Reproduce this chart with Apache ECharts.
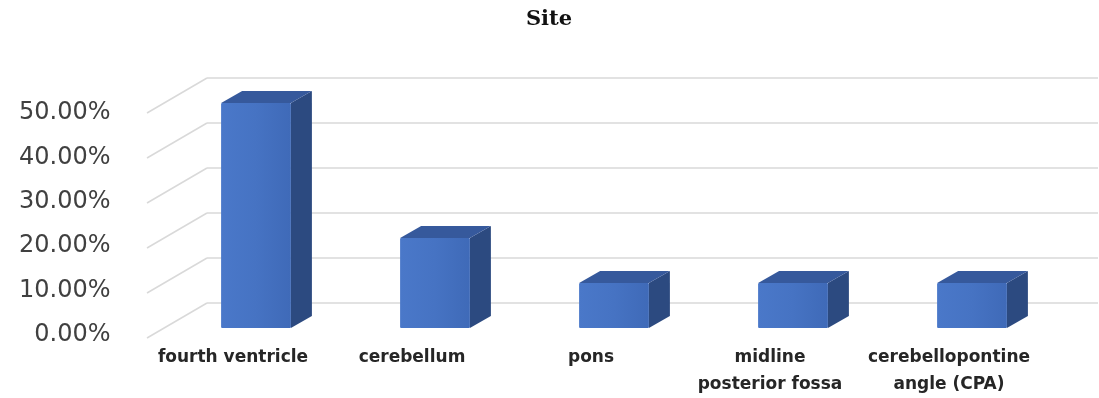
<!DOCTYPE html>
<html>
<head>
<meta charset="utf-8">
<script src="https://cdn.jsdelivr.net/npm/echarts@6/dist/echarts.min.js"></script>
<style>
  html, body { margin: 0; padding: 0; background: #fff; }
  #chart { width: 1099px; height: 398px; }
</style>
</head>
<body>
<div id="chart"></div>
<script>
const categories = ["fourth ventricle", "cerebellum", "pons", "midline\nposterior fossa", "cerebellopontine\nangle (CPA)"];
const values = [0.50, 0.20, 0.10, 0.10, 0.10];
const ticks = [0, 0.1, 0.2, 0.3, 0.4, 0.5];

// perspective offsets (px)
const wallDx = 60, wallDy = 35;   // back wall -> front edge
const depthDx = 21, depthDy = 12; // bar depth

const chart = echarts.init(document.getElementById("chart"));

function pct(v) {
  return (v * 100).toFixed(2) + "%";
}

chart.setOption({
  animation: false,
  title: {
    text: "Site",
    left: 544,
    textAlign: "center",
    top: 4,
    textStyle: { fontFamily: "DejaVu Serif", fontWeight: "bold", fontSize: 21, color: "#111" }
  },
  grid: [
    // bar front plane
    { left: 166.5, right: 37.5, top: 103, bottom: 70 },
    // front edge (labels)
    { left: 143.5, right: 60.5, top: 113, bottom: 60 },
    // back wall
    { left: 207, right: 1, top: 78, bottom: 95 }
  ],
  xAxis: [
    { gridIndex: 0, type: "category", data: categories, show: false },
    {
      gridIndex: 1, type: "category", data: categories,
      axisLine: { show: false }, axisTick: { show: false },
      axisLabel: {
        interval: 0, margin: 9, lineHeight: 27,
        fontFamily: "DejaVu Sans", fontWeight: "bold", fontSize: 17, color: "#262626"
      }
    },
    { gridIndex: 2, type: "category", data: categories, show: false }
  ],
  yAxis: [
    { gridIndex: 0, type: "value", min: 0, max: 0.5, interval: 0.1, show: false },
    {
      gridIndex: 1, type: "value", min: 0, max: 0.5, interval: 0.1,
      axisLine: { show: false }, axisTick: { show: false }, splitLine: { show: false },
      axisLabel: {
        margin: 33, formatter: pct,
        fontFamily: "DejaVu Sans", fontSize: 24, color: "#404040"
      }
    },
    {
      gridIndex: 2, type: "value", min: 0, max: 0.5, interval: 0.1,
      axisLine: { show: false }, axisTick: { show: false }, axisLabel: { show: false },
      splitLine: { lineStyle: { color: "#d9d9d9", width: 1.5 } }
    }
  ],
  series: [
    {
      // diagonal floor/wall gridlines
      type: "custom",
      xAxisIndex: 2, yAxisIndex: 2,
      z: 1,
      data: ticks.map(v => [0, v]),
      encode: { x: 0, y: 1 },
      renderItem: function (params, api) {
        const p = api.coord([0, api.value(1)]);
        const x = p[0] - api.size([1, 0])[0] / 2;
        return {
          type: "line",
          shape: { x1: x, y1: p[1], x2: x - wallDx, y2: p[1] + wallDy },
          style: { stroke: "#d9d9d9", lineWidth: 1.5 }
        };
      }
    },
    {
      type: "custom",
      xAxisIndex: 0, yAxisIndex: 0,
      z: 3,
      data: values.map((v, i) => [i, v]),
      encode: { x: 0, y: 1 },
      renderItem: function (params, api) {
        const top = api.coord([api.value(0), api.value(1)]);
        const base = api.coord([api.value(0), 0]);
        const w = api.size([1, 0])[0] * 0.39;
        const x0 = top[0] - w / 2, x1 = top[0] + w / 2;
        const yt = top[1], yb = base[1];
        return {
          type: "group",
          children: [
            {
              type: "polygon",
              shape: { points: [[x1, yt], [x1 + depthDx, yt - depthDy], [x1 + depthDx, yb - depthDy], [x1, yb]] },
              style: { fill: "#2c4a80" }
            },
            {
              type: "polygon",
              shape: { points: [[x0, yt], [x1, yt], [x1 + depthDx, yt - depthDy], [x0 + depthDx, yt - depthDy]] },
              style: { fill: "#36599c" }
            },
            {
              type: "rect",
              shape: { x: x0, y: yt, width: w, height: yb - yt, r: 1 },
              style: {
                fill: new echarts.graphic.LinearGradient(0, 0, 1, 0, [
                  { offset: 0, color: "#4a78c9" },
                  { offset: 0.5, color: "#4673c3" },
                  { offset: 1, color: "#3f6ab8" }
                ])
              }
            }
          ]
        };
      }
    }
  ]
});
</script>
</body>
</html>
